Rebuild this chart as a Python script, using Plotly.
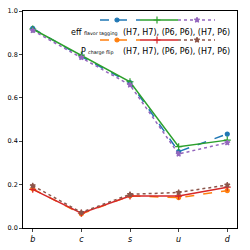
import plotly.graph_objects as go

categories = ["b", "c", "s", "u", "d"]
eff_h7h7 = [0.92, 0.790, 0.670, 0.352, 0.433]
eff_p6p6 = [0.917, 0.797, 0.674, 0.375, 0.405]
eff_h7p6 = [0.910, 0.786, 0.659, 0.341, 0.393]
pcf_h7h7 = [0.180, 0.065, 0.148, 0.140, 0.172]
pcf_p6p6 = [0.178, 0.068, 0.147, 0.147, 0.188]
pcf_h7p6 = [0.195, 0.072, 0.155, 0.164, 0.198]
yticks = [0.0, 0.2, 0.4, 0.6, 0.8, 1.0]

FONT = "DejaVu Sans"
styles = [
    ("#1f77b4", "dash", "circle", 4),
    ("#2ca02c", "solid", "cross-thin", 5),
    ("#9467bd", "dot", "star", 4),
    ("#ff7f0e", "dash", "circle", 4),
    ("#d62728", "solid", "cross-thin", 5),
    ("#8c564b", "dot", "star", 4),
]
series = [eff_h7h7, eff_p6p6, eff_h7p6, pcf_h7h7, pcf_p6p6, pcf_h7p6]
xs = list(range(len(categories)))

fig = go.Figure()
for vals, (col, dash, sym, sz) in zip(series, styles):
    fig.add_trace(go.Scatter(
        x=xs, y=vals, mode="lines+markers",
        line=dict(color=col, dash=dash, width=1.5),
        marker=dict(symbol=sym, size=sz, color=col,
                    line=dict(color=col, width=1.2)),
        showlegend=False, hoverinfo="skip"))

# legend samples on an overlay axis in pixel-like coordinates
seg = [(100, 140, 117), (140, 178, 157), (178, 215, 197)]
for row, ypix in enumerate([20, 40]):
    for k, (x0, x1, xm) in enumerate(seg):
        col, dash, sym, sz = styles[row * 3 + k]
        fig.add_trace(go.Scatter(
            x=[x0, x1], y=[ypix, ypix], mode="lines", xaxis="x2", yaxis="y2",
            line=dict(color=col, dash=dash, width=1.5),
            showlegend=False, hoverinfo="skip"))
        fig.add_trace(go.Scatter(
            x=[xm], y=[ypix], mode="markers", xaxis="x2", yaxis="y2",
            marker=dict(symbol=sym, size=sz, color=col,
                        line=dict(color=col, width=1.2)),
            showlegend=False, hoverinfo="skip"))

legend_rows = [("eff", "flavor tagging", 32, 83), ("P", "charge flip", 51, 87)]
for main, sub, ypix, subleft in legend_rows:
    fig.add_annotation(x=231, y=ypix, xref="x2", yref="y2", xanchor="right",
                       yanchor="middle", showarrow=False, borderpad=0,
                       text="(H7, H7), (P6, P6), (H7, P6)",
                       font=dict(family=FONT, size=8, color="black"))
    fig.add_annotation(x=subleft, y=ypix + 1.5, xref="x2", yref="y2",
                       xanchor="left", yanchor="middle", showarrow=False,
                       borderpad=0, text=sub,
                       font=dict(family=FONT, size=4.8, color="black"))
    fig.add_annotation(x=subleft, y=ypix, xref="x2", yref="y2",
                       xanchor="right", yanchor="middle", showarrow=False,
                       borderpad=0, text=main,
                       font=dict(family=FONT, size=8, color="black"))

fig.update_layout(
    width=250, height=250,
    margin=dict(l=23, r=13, t=11, b=22, autoexpand=False),
    paper_bgcolor="white", plot_bgcolor="white",
    font=dict(family=FONT, size=7, color="black"),
    xaxis=dict(range=[-0.2, 4.2], tickvals=xs, automargin=False,
               ticktext=["<i>%s</i>" % c for c in categories],
               showgrid=False, zeroline=False, showline=True, mirror=True,
               linecolor="black", linewidth=0.8, ticks="outside", ticklen=3,
               tickwidth=0.8, tickfont=dict(size=8)),
    yaxis=dict(range=[0, 1], tickvals=yticks, automargin=False,
               ticktext=["%.1f" % v for v in yticks],
               showgrid=False, zeroline=False, showline=True, mirror=True,
               linecolor="black", linewidth=0.8, ticks="outside", ticklen=3,
               tickwidth=0.8, tickfont=dict(size=6.5)),
    xaxis2=dict(range=[23, 237], overlaying="x", visible=False, fixedrange=True),
    yaxis2=dict(range=[228, 11], overlaying="y", visible=False, fixedrange=True),
)

fig.write_html("out.html", config={"displayModeBar": False},
               post_script="document.body.style.margin='0px';")
